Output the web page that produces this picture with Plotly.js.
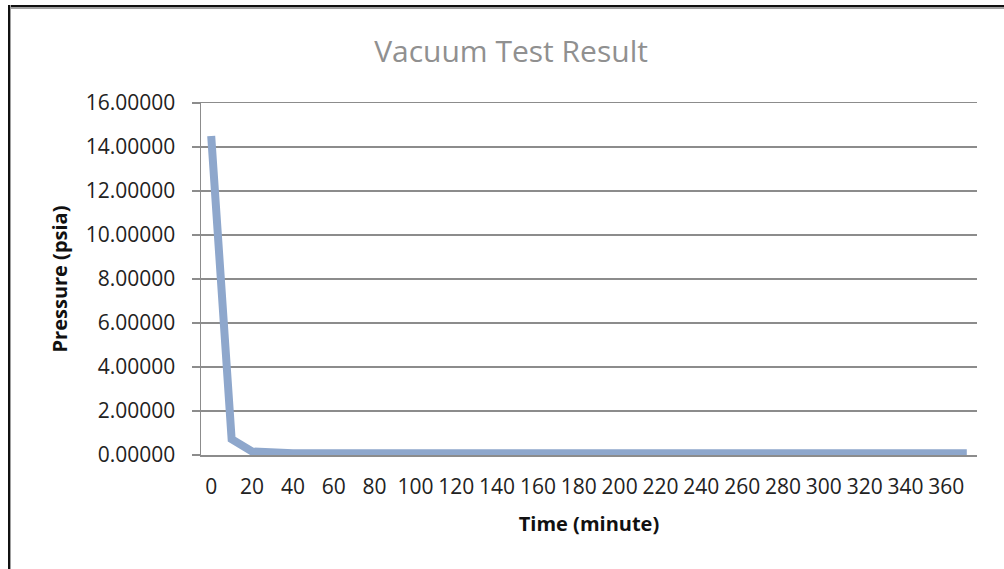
<!DOCTYPE html>
<html>
<head>
<meta charset="utf-8">
<script src="https://cdn.plot.ly/plotly-3.0.1.min.js"></script>
<style>
  html, body { margin: 0; padding: 0; background: #ffffff; }
  #wrap { position: relative; width: 1004px; height: 569px; overflow: hidden; }
  #chart { position: absolute; left: 0; top: 0; width: 1004px; height: 569px; }
  #frameTop { position: absolute; left: 8px; top: 5px; width: 996px; height: 2px; background: #111; border-bottom: 2px solid #a0a0a0; }
  #frameLeft { position: absolute; left: 8px; top: 5px; width: 2px; height: 564px; background: #111; border-right: 1px solid #a0a0a0; }
</style>
</head>
<body>
<div id="wrap">
  <div id="chart"></div>
  <div id="frameTop"></div>
  <div id="frameLeft"></div>
</div>
<script>
// Time (minute)
const timeMinutes = [0, 10, 20, 30, 40, 50, 60, 70, 80, 90,
                     100, 110, 120, 130, 140, 150, 160, 170, 180, 190,
                     200, 210, 220, 230, 240, 250, 260, 270, 280, 290,
                     300, 310, 320, 330, 340, 350, 360, 370];
// Pressure (psia)
const pressurePsia = [14.50, 0.72, 0.16, 0.09, 0.08, 0.08, 0.08, 0.08, 0.08, 0.08,
                      0.08, 0.08, 0.08, 0.08, 0.08, 0.08, 0.08, 0.08, 0.08, 0.08,
                      0.08, 0.08, 0.08, 0.08, 0.08, 0.08, 0.08, 0.08, 0.08, 0.08,
                      0.08, 0.08, 0.08, 0.08, 0.08, 0.08, 0.08, 0.08];
const xTickVals = [0, 20, 40, 60, 80, 100, 120, 140, 160, 180, 200, 220, 240, 260, 280, 300, 320, 340, 360];
const xTickText = ["0", "20", "40", "60", "80", "100", "120", "140", "160", "180", "200", "220", "240", "260", "280", "300", "320", "340", "360"];
const yTickVals = [0, 2, 4, 6, 8, 10, 12, 14, 16];

const gridGray = '#8c8c8c';
const fontFam = '"Open Sans", "Noto Sans", sans-serif';

const trace = {
  x: timeMinutes,
  y: pressurePsia,
  type: 'scatter',
  mode: 'lines',
  line: { color: '#8ea7cc', width: 8, shape: 'linear' },
  hoverinfo: 'x+y',
  showlegend: false
};

const layout = {
  width: 1004,
  height: 569,
  margin: { l: 201, r: 27, t: 103, b: 114, pad: 0 },
  paper_bgcolor: '#ffffff',
  plot_bgcolor: '#ffffff',
  font: { family: fontFam, color: '#222222', size: 21 },
  title: {
    text: 'Vacuum Test Result',
    font: { family: fontFam, size: 30, color: '#909090' },
    x: 0.509, xanchor: 'center', xref: 'container',
    y: 0.909, yanchor: 'middle', yref: 'container'
  },
  xaxis: {
    range: [-5, 375],
    tickmode: 'array',
    tickvals: xTickVals,
    ticktext: xTickText,
    tickangle: 0,
    showgrid: false,
    zeroline: false,
    showline: true,
    mirror: true,
    linecolor: gridGray,
    linewidth: 1.5,
    ticks: '',
    ticklabelstandoff: 12,
    tickfont: { family: fontFam, size: 21, color: '#222222' },
    title: { text: '<b>Time (minute)</b>', font: { family: fontFam, size: 20, color: '#111111' }, standoff: 18 }
  },
  yaxis: {
    range: [0, 16],
    tickmode: 'array',
    tickvals: yTickVals,
    tickformat: '.5f',
    showgrid: true,
    gridcolor: gridGray,
    gridwidth: 1.5,
    zeroline: false,
    showline: true,
    linecolor: gridGray,
    linewidth: 1.5,
    ticks: 'outside',
    ticklen: 8,
    tickwidth: 1.5,
    tickcolor: gridGray,
    ticklabelstandoff: 12,
    tickfont: { family: fontFam, size: 21, color: '#222222' },
    title: { text: '<b>Pressure (psia)</b>', font: { family: fontFam, size: 20, color: '#111111' }, standoff: 12 }
  }
};

Plotly.newPlot('chart', [trace], layout, { displayModeBar: false, staticPlot: true });
</script>
</body>
</html>
